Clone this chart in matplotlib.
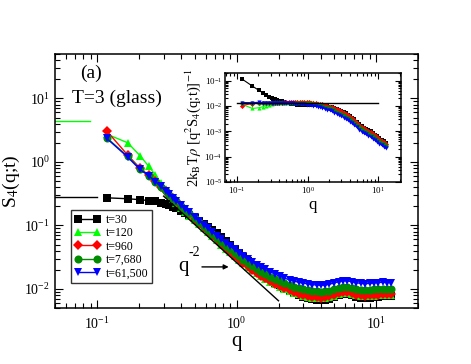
import matplotlib
matplotlib.use("Agg")
import matplotlib.pyplot as plt
import numpy as np

# --- data ------------------------------------------------------------------

q = [0.117, 0.166, 0.203, 0.234, 0.262, 0.287, 0.31, 0.33, 0.35, 0.37,
     0.40, 0.43, 0.46, 0.50, 0.54, 0.58, 0.62, 0.67, 0.72, 0.78,
     0.84, 0.90, 0.97, 1.04, 1.12, 1.20, 1.30, 1.40, 1.50, 1.60,
     1.75, 1.90, 2.05, 2.20, 2.40, 2.60, 2.80, 3.00, 3.25, 3.50,
     3.75, 4.00, 4.30, 4.60, 5.00, 5.40, 5.80, 6.20, 6.70, 7.20,
     7.80, 8.40, 9.00, 9.70, 10.4, 11.2, 12.0, 12.9]

s4_t30 = [0.272, 0.263, 0.254, 0.246, 0.238, 0.228, 0.218, 0.207, 0.196, 0.186,
          0.17, 0.156, 0.144, 0.13, 0.118, 0.107, 0.096, 0.085, 0.075, 0.065,
          0.056, 0.049, 0.042, 0.0365, 0.0316, 0.0275, 0.0237, 0.0206, 0.0182, 0.0163,
          0.0142, 0.0126, 0.0114, 0.0104, 0.0094, 0.0086, 0.008, 0.0075, 0.0071, 0.0069,
          0.0068, 0.0067, 0.0068, 0.007, 0.0074, 0.0079, 0.0082, 0.0082, 0.0079, 0.0075,
          0.0073, 0.0072, 0.0073, 0.0074, 0.0075, 0.0076, 0.0076, 0.0076]

s4_t120 = [2.75, 2.0, 1.26, 0.86, 0.62, 0.47, 0.37, 0.31, 0.262, 0.228,
           0.19, 0.163, 0.142, 0.121, 0.104, 0.09, 0.079, 0.068, 0.058, 0.05,
           0.043, 0.0377, 0.0328, 0.0287, 0.0253, 0.0223, 0.0197, 0.0176, 0.0159, 0.0145,
           0.013, 0.0118, 0.0108, 0.01, 0.0093, 0.0087, 0.0082, 0.0078, 0.0075, 0.0073,
           0.0072, 0.0071, 0.0072, 0.0074, 0.0078, 0.0083, 0.0086, 0.0086, 0.0083, 0.0079,
           0.0077, 0.0076, 0.0077, 0.0078, 0.0079, 0.008, 0.008, 0.008]

s4_t960 = [3.1, 1.28, 0.80, 0.62, 0.495, 0.405, 0.345, 0.303, 0.268, 0.238,
           0.202, 0.174, 0.151, 0.128, 0.109, 0.094, 0.082, 0.07, 0.06, 0.051,
           0.044, 0.0385, 0.0335, 0.0293, 0.0258, 0.0228, 0.0201, 0.018, 0.0162, 0.0148,
           0.0133, 0.0121, 0.0111, 0.0103, 0.0095, 0.0089, 0.0084, 0.008, 0.0077, 0.0075,
           0.0074, 0.0073, 0.0074, 0.0076, 0.008, 0.0085, 0.0088, 0.0088, 0.0085, 0.0081,
           0.0079, 0.0078, 0.0079, 0.008, 0.0081, 0.0082, 0.0082, 0.0082]

s4_t7680 = [2.42, 1.22, 0.78, 0.61, 0.49, 0.405, 0.345, 0.305, 0.27, 0.24,
            0.205, 0.178, 0.155, 0.132, 0.113, 0.098, 0.086, 0.074, 0.064, 0.055,
            0.048, 0.042, 0.037, 0.0325, 0.0288, 0.0256, 0.0228, 0.0205, 0.0186, 0.0171,
            0.0155, 0.0142, 0.0131, 0.0122, 0.0114, 0.0108, 0.0103, 0.0099, 0.0096, 0.0094,
            0.0092, 0.0091, 0.0092, 0.0094, 0.0099, 0.0104, 0.0107, 0.0107, 0.0103, 0.0099,
            0.0097, 0.0096, 0.0097, 0.0099, 0.01, 0.0101, 0.01, 0.01]

s4_t61500 = [2.36, 1.19, 0.76, 0.61, 0.49, 0.41, 0.35, 0.31, 0.275, 0.245,
             0.21, 0.183, 0.16, 0.137, 0.118, 0.103, 0.091, 0.079, 0.069, 0.06,
             0.053, 0.047, 0.042, 0.037, 0.033, 0.0295, 0.0265, 0.024, 0.022, 0.0203,
             0.0185, 0.017, 0.0158, 0.0148, 0.0139, 0.0132, 0.0127, 0.0123, 0.012, 0.0117,
             0.0115, 0.0114, 0.0115, 0.0118, 0.0124, 0.013, 0.0134, 0.0134, 0.013, 0.0125,
             0.0122, 0.0121, 0.0122, 0.0124, 0.0126, 0.0127, 0.0126, 0.0126]

labels = ["t=30", "t=120", "t=960", "t=7,680", "t=61,500"]
colors = ["black", "#00ff00", "#ff0000", "#008b00", "#0000ff"]
markers = ["s", "^", "D", "o", "v"]
series = [s4_t30, s4_t120, s4_t960, s4_t7680, s4_t61500]

# q -> 0 limits drawn as short bars at the left edge
q0_black = [0.05, 0.1]
s0_black = [0.285, 0.285]
q0_green = [0.05, 0.089]
s0_green = [4.36, 4.36]

# q^-2 guide line
q_guide = [0.3, 2.0]
s_guide = [0.289, 0.0065]

# inset: 2 kB T rho / (q^2 S4), prefactor
inset_prefactor = 4.4e-4
inset_level_q = [0.1, 10.0]
inset_level = [0.0135, 0.0135]

# --- style -----------------------------------------------------------------

plt.rcParams["font.family"] = ["Liberation Serif", "DejaVu Serif"]
plt.rcParams["mathtext.fontset"] = "stix"


def style_ticks(ax, size, major_len, minor_len):
    ax.tick_params(which="both", direction="in", top=True, right=True,
                   labelsize=size, width=0.8)
    ax.tick_params(which="major", length=major_len)
    ax.tick_params(which="minor", length=minor_len)
    for sp in ax.spines.values():
        sp.set_linewidth(1.1)


fig = plt.figure(figsize=(4.71, 3.64), dpi=100)
ax = fig.add_axes([0.1168, 0.1538, 0.7707, 0.6978])

for ys, lab, c, m in zip(series, labels, colors, markers):
    ms = 5.0 if m == "D" else 5.8
    ax.plot(q, ys, color=c, marker=m, markersize=ms, lw=1.0, label=lab,
            markeredgewidth=0)

ax.plot(q0_black, s0_black, color="black", lw=1.0)
ax.plot(q0_green, s0_green, color="#00ff00", lw=1.0)
ax.plot(q_guide, s_guide, color="black", lw=1.0)

ax.set_xscale("log")
ax.set_yscale("log")
ax.set_xlim(0.05, 20)
ax.set_ylim(0.005, 50)
style_ticks(ax, 10, 6, 3.5)
ax.tick_params(axis="x", pad=6)
ax.set_xlabel("q", fontsize=15, labelpad=0)
ax.set_ylabel("S$_4$(q;t)", fontsize=14, labelpad=2)

ax.text(0.076, 21, "(a)", fontsize=14)
ax.text(0.066, 8.6, "T=3 (glass)", fontsize=14)

# q^-2 label with arrow pointing at the guide line
ax.text(0.42, 0.0222, "q", fontsize=15, ha="center", va="center")
ax.text(0.50, 0.037, "-2", fontsize=10, ha="center", va="center")
ax.annotate("", xy=(0.92, 0.0222), xytext=(0.54, 0.0222),
            arrowprops=dict(arrowstyle="-|>", color="black", lw=1.0,
                            mutation_scale=7))

leg = ax.legend(loc="upper left", bbox_to_anchor=(0.045, 0.385), fontsize=8.5,
                numpoints=2, frameon=True, fancybox=False, handlelength=2.2,
                handletextpad=0.4, borderpad=0.3, labelspacing=0.12,
                borderaxespad=0)
leg.get_frame().set_edgecolor("black")
leg.get_frame().set_linewidth(1.0)

# --- inset -----------------------------------------------------------------

axin = fig.add_axes([0.4777, 0.5, 0.3737, 0.2995])
qa = np.array(q)
for ys, c, m in zip(series, colors, markers):
    inv = inset_prefactor / (qa ** 2 * np.array(ys))
    ms = 2.6 if m == "D" else 3.0
    axin.plot(qa, inv, color=c, marker=m, markersize=ms, lw=0.8,
              markeredgewidth=0)
axin.plot(inset_level_q, inset_level, color="black", lw=1.0)

axin.set_xscale("log")
axin.set_yscale("log")
axin.set_xlim(0.068, 21)
axin.set_ylim(1e-5, 0.2)
style_ticks(axin, 6.5, 4, 2.2)
axin.tick_params(pad=2)
axin.set_xlabel("q", fontsize=12, labelpad=1)
axin.set_ylabel(r"2k$_\mathrm{B}$T$\rho$ [q$^2$S$_4$(q;t)]$^{-1}$", fontsize=10.5,
                labelpad=1)

fig.savefig("out.png", dpi=100)
